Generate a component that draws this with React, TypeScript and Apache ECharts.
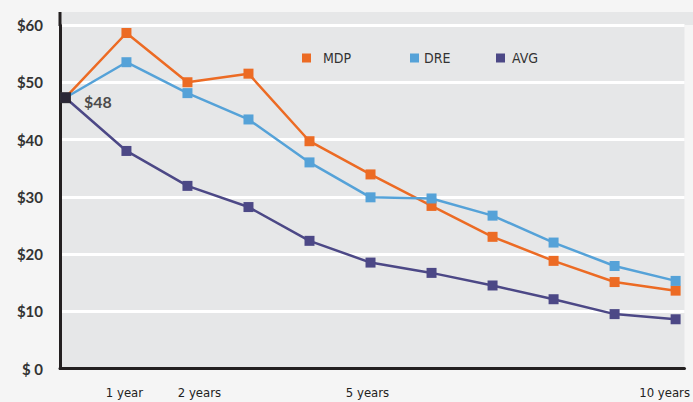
import React, { useEffect, useRef } from 'react';
import * as echarts from 'echarts';

// ---- data ----
const years = [0, 1, 2, 3, 4, 5, 6, 7, 8, 9, 10];
const mdp = [47.3, 58.6, 50.0, 51.5, 39.7, 33.9, 28.4, 23.0, 18.8, 15.1, 13.6];
const dre = [47.3, 53.5, 48.1, 43.5, 36.0, 29.9, 29.7, 26.7, 22.0, 17.9, 15.3];
const avg = [47.3, 38.0, 31.9, 28.2, 22.3, 18.5, 16.7, 14.5, 12.1, 9.5, 8.6];
const startValue = 47.3;
const startLabel = '$48';
const seriesNames = ['MDP', 'DRE', 'AVG'];
const xTickValues = [1, 2, 5, 10];
const xTickLabels = ['1 year', '2 years', '5 years', '10 years'];

const COLORS = ['#ec6b24', '#55a2d8', '#4c4886'];
const NARROW = "'Liberation Sans Narrow', 'DejaVu Sans Condensed', 'Roboto', sans-serif";

export default function App() {
  const ref = useRef<HTMLDivElement>(null);
  useEffect(() => {
    if (!ref.current) return;
    const chart = echarts.init(ref.current, null, { renderer: 'svg' });
    const toPairs = (arr: number[]) => years.map((x, i) => [x, arr[i]]);
    const seriesData = [mdp, dre, avg];
    const legendLefts = [302, 410, 496];
    const legendPads = [7, 0, 2];
    const xFont = { fontFamily: NARROW, fontSize: 13, color: '#222' };
    const option: any = {
      animation: false,
      backgroundColor: '#f5f5f5',
      grid: {
        left: 60,
        right: 0,
        top: 25,
        bottom: 33.5,
        show: true,
        backgroundColor: '#e6e7e8',
        borderWidth: 0,
      },
      graphic: [
        {
          type: 'rect',
          shape: { x: 60, y: 12, width: 633, height: 13 },
          style: { fill: '#e6e7e8' },
          z: -1,
        },
        {
          type: 'line',
          shape: { x1: 60, y1: 12, x2: 60, y2: 26 },
          style: { stroke: '#231f20', lineWidth: 3 },
        },
      ],
      legend: seriesNames.map((n, i) => ({
        data: [n],
        left: legendLefts[i],
        top: 51,
        padding: 0,
        icon: 'rect',
        itemWidth: 9,
        itemHeight: 9,
        textStyle: {
          fontFamily: NARROW,
          fontSize: 14,
          color: '#333',
          padding: [0, 0, 0, legendPads[i]],
        },
      })),
      xAxis: {
        type: 'value',
        min: -0.0889,
        max: 10.1455,
        axisLine: { show: true, lineStyle: { color: '#231f20', width: 3 } },
        axisTick: { show: false },
        splitLine: { show: false },
        axisLabel: {
          customValues: xTickValues,
          margin: 17,
          ...xFont,
          formatter: (v: number) => {
            const i = xTickValues.indexOf(Math.round(v));
            const t = i >= 0 ? xTickLabels[i] : '';
            if (i === 0) return '{m|' + t + '}';
            if (i === 1) return '{r|' + t + '}';
            if (i === 2) return '{f|' + t + '}';
            if (i === 3) return '{l|' + t + '}';
            return t;
          },
          rich: {
            m: { padding: [0, 4, 0, 0], ...xFont },
            r: { padding: [0, 0, 0, 24], ...xFont },
            f: { padding: [0, 6, 0, 0], ...xFont },
            l: { padding: [0, 22, 0, 0], ...xFont },
          },
        },
      },
      yAxis: {
        type: 'value',
        min: 0,
        max: 60,
        interval: 10,
        axisLine: { show: true, onZero: false, lineStyle: { color: '#231f20', width: 3 } },
        axisTick: { show: false },
        splitLine: { show: true, lineStyle: { color: '#ffffff', width: 3 } },
        axisLabel: {
          margin: 17,
          fontFamily: 'Lato, sans-serif',
          fontWeight: 'bold',
          fontSize: 15,
          color: '#333',
          formatter: (v: number) => (v === 0 ? '$ 0' : '$' + v),
        },
      },
      series: [
        ...seriesNames.map((n, i) => ({
          name: n,
          type: 'line',
          data: toPairs(seriesData[i]),
          symbol: 'rect',
          symbolSize: 10,
          showAllSymbol: true,
          lineStyle: { color: COLORS[i], width: 2.5 },
          itemStyle: { color: COLORS[i] },
          z: 3 + i,
        })),
        {
          name: 'start',
          type: 'scatter',
          data: [[0, startValue]],
          symbol: 'rect',
          symbolSize: 11,
          itemStyle: { color: '#231f20' },
          z: 10,
          label: {
            show: true,
            position: 'right',
            distance: 13,
            offset: [0, 4],
            formatter: '{b|' + startLabel + '}',
            rich: {
              b: {
                fontFamily: 'Lato, sans-serif',
                fontWeight: 'bold',
                fontSize: 16,
                color: '#231f20',
              },
            },
          },
        },
      ],
    };
    chart.setOption(option);
    return () => chart.dispose();
  }, []);
  return (
    <div
      ref={ref}
      style={{ position: 'fixed', left: 0, top: 0, width: 693, height: 402, background: '#f5f5f5' }}
    />
  );
}
